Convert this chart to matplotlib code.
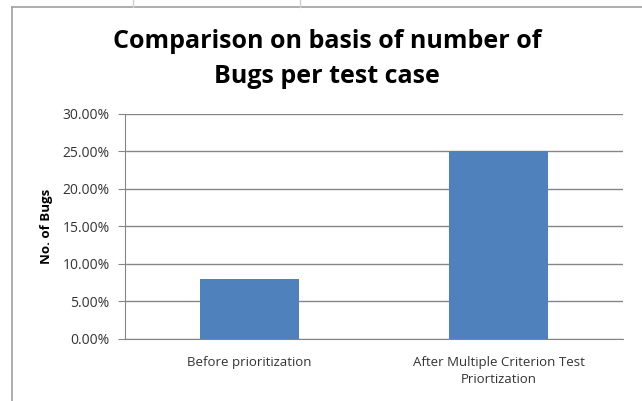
import matplotlib.pyplot as plt
from matplotlib.ticker import PercentFormatter
from matplotlib.lines import Line2D

# data
categories = ['Before prioritization', 'After Multiple Criterion Test\nPriortization']
bug_share = [8.0, 25.0]
y_ticks = [0, 5, 10, 15, 20, 25, 30]

BAR_COLOR = '#4f81bd'
GRID_COLOR = '#868686'

plt.rcParams['font.family'] = ['Open Sans', 'DejaVu Sans']

fig = plt.figure(figsize=(6.42, 4.01), dpi=100)
W, H = 642, 401
ax = fig.add_axes([125 / W, 1 - 339 / H, (623 - 125) / W, (339 - 113.5) / H])

x = range(len(categories))
ax.bar(x, bug_share, width=0.4, color=BAR_COLOR, zorder=3)
ax.set_xlim(-0.5, 1.5)
ax.set_ylim(0, 30)
ax.set_yticks(y_ticks)
ax.yaxis.set_major_formatter(PercentFormatter(decimals=2))
ax.set_xticks(list(x))
ax.set_xticklabels(categories, fontsize=9.5, color='#333333', linespacing=1.45)
ax.tick_params(axis='x', length=0, pad=12)
ax.tick_params(axis='y', length=5, color=GRID_COLOR, labelsize=10,
               labelcolor='#333333', pad=6)
ax.grid(axis='y', color=GRID_COLOR, linewidth=1, zorder=0)
for side in ['top', 'right']:
    ax.spines[side].set_visible(False)
ax.spines['left'].set_color(GRID_COLOR)
ax.spines['bottom'].set_color(GRID_COLOR)

ax.set_ylabel('No. of Bugs', fontsize=9.5, fontweight='bold', labelpad=7)

fig.text(327 / W, 1 - 59 / H, 'Comparison on basis of number of\nBugs per test case',
         ha='center', va='center', fontsize=18, fontweight='bold', linespacing=1.55)

# chart area border and spreadsheet background lines
fig.add_artist(Line2D([12 / W, 12 / W], [0, 1 - 7 / H], color='#a0a0a0', lw=1.2))
fig.add_artist(Line2D([12 / W, 1], [1 - 7 / H, 1 - 7 / H], color='#a0a0a0', lw=1.2))
for xv in [133, 300]:
    fig.add_artist(Line2D([xv / W, xv / W], [1 - 7 / H, 1], color='#d0d0d0', lw=1))

fig.savefig('out.png', dpi=100)
